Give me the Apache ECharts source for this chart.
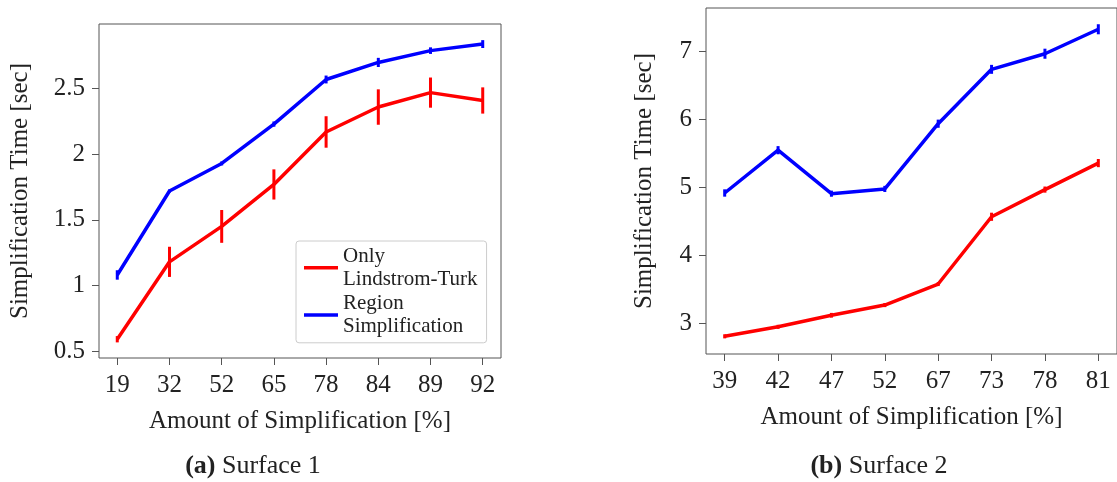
<!DOCTYPE html>
<html>
<head>
<meta charset="utf-8">
<script src="https://cdn.jsdelivr.net/npm/echarts@6/dist/echarts.min.js"></script>
<style>
  html, body { margin: 0; padding: 0; background: #fff; }
  #chart { width: 1117px; height: 482px; }
</style>
</head>
<body>
<div id="chart"></div>
<script>
// Surface 1: simplification amount [%] and times [sec] with error half-widths
const catsA = ['19', '32', '52', '65', '78', '84', '89', '92'];
const lindstromA = [0.59, 1.18, 1.45, 1.77, 2.17, 2.36, 2.47, 2.41];
const lindstromAErr = [0.024, 0.115, 0.125, 0.115, 0.12, 0.135, 0.115, 0.10];
const regionA = [1.08, 1.72, 1.93, 2.23, 2.57, 2.70, 2.79, 2.84];
const regionAErr = [0.036, 0.012, 0.015, 0.02, 0.03, 0.035, 0.025, 0.03];

// Surface 2
const catsB = ['39', '42', '47', '52', '67', '73', '78', '81'];
const lindstromB = [2.81, 2.95, 3.12, 3.27, 3.58, 4.57, 4.97, 5.36];
const lindstromBErr = [0.03, 0.03, 0.035, 0.03, 0.03, 0.06, 0.045, 0.06];
const regionB = [4.92, 5.55, 4.91, 4.98, 5.94, 6.74, 6.97, 7.33];
const regionBErr = [0.054, 0.06, 0.045, 0.045, 0.06, 0.066, 0.074, 0.074];

const ticksA = [0.5, 1, 1.5, 2, 2.5];
const ticksB = [3, 4, 5, 6, 7];

const NAME_L = 'Only\nLindstrom-Turk';
const NAME_R = 'Region\nSimplification';
const RED = '#ff0000';
const BLUE = '#0000ff';
const FONT = '"Liberation Serif", "DejaVu Serif", serif';
const TXT = '#222222';
const FRAME = '#555555';
const AXIS_FONT = 25;

const toPoints = (vals) => vals.map((v, i) => [i, v]);
const toErr = (vals, errs) => vals.map((v, i) => [i, v, errs[i]]);

function xAxisFor(gridIndex, cats) {
  const idx = cats.map((_, i) => i);
  return {
    type: 'value', gridIndex, min: -0.35, max: cats.length - 1 + 0.35,
    splitLine: { show: false },
    axisLine: { show: false, onZero: false },
    axisTick: { show: true, length: 7, customValues: idx, lineStyle: { color: FRAME, width: 1 } },
    axisLabel: {
      customValues: idx, margin: 15,
      formatter: (v) => cats[Math.round(v)],
      fontFamily: FONT, fontSize: AXIS_FONT, color: TXT
    },
    name: 'Amount of Simplification [%]', nameLocation: 'middle', nameGap: 51,
    nameTextStyle: { fontFamily: FONT, fontSize: AXIS_FONT, color: TXT }
  };
}

function yAxisFor(gridIndex, min, max, ticks, gap) {
  return {
    type: 'value', gridIndex, min, max,
    splitLine: { show: false },
    axisLine: { show: false, onZero: false },
    axisTick: { show: true, length: 7, customValues: ticks, lineStyle: { color: FRAME, width: 1 } },
    axisLabel: {
      customValues: ticks, margin: 14,
      formatter: (v) => String(v),
      fontFamily: FONT, fontSize: AXIS_FONT, color: TXT
    },
    name: 'Simplification Time [sec]', nameLocation: 'middle', nameGap: gap,
    nameTextStyle: { fontFamily: FONT, fontSize: AXIS_FONT, color: TXT }
  };
}

function lineSeries(name, idx, vals, color) {
  return {
    type: 'line', name, xAxisIndex: idx, yAxisIndex: idx,
    data: toPoints(vals), symbol: 'none', silent: true,
    lineStyle: { color, width: 3.5 }, itemStyle: { color },
    z: 3
  };
}

function errSeries(idx, vals, errs, color) {
  return {
    type: 'custom', xAxisIndex: idx, yAxisIndex: idx, silent: true,
    data: toErr(vals, errs),
    z: 4,
    renderItem: (params, api) => {
      const x = api.value(0), y = api.value(1), e = api.value(2);
      const top = api.coord([x, y + e]);
      const bot = api.coord([x, y - e]);
      return {
        type: 'line',
        shape: { x1: top[0], y1: top[1], x2: bot[0], y2: bot[1] },
        style: { stroke: color, lineWidth: 3 }
      };
    }
  };
}

function caption(tag, text, cx) {
  return {
    type: 'text',
    style: {
      text: '{b|' + tag + '} ' + text, x: cx, y: 466, align: 'center', verticalAlign: 'middle',
      fontFamily: FONT, fontSize: 26, fill: TXT,
      rich: { b: { fontFamily: FONT, fontSize: 26, fontWeight: 'bold', fill: TXT } }
    }
  };
}

const chart = echarts.init(document.getElementById('chart'), null, { renderer: 'canvas' });
chart.setOption({
  animation: false,
  backgroundColor: '#ffffff',
  grid: [
    { left: 99, top: 24, width: 402, height: 334, show: true, borderColor: FRAME, borderWidth: 1, backgroundColor: 'transparent' },
    { left: 706, top: 8, width: 417, height: 346, show: true, borderColor: FRAME, borderWidth: 1, backgroundColor: 'transparent' }
  ],
  xAxis: [xAxisFor(0, catsA), xAxisFor(1, catsB)],
  yAxis: [
    yAxisFor(0, 0.447, 2.993, ticksA, 66),
    yAxisFor(1, 2.55, 7.643, ticksB, 49)
  ],
  legend: {
    data: [NAME_L, NAME_R],
    orient: 'vertical',
    left: 296, top: 241,
    icon: 'rect', itemWidth: 34, itemHeight: 3.5, itemGap: 2,
    padding: [4, 9, 5, 8],
    borderColor: '#cccccc', borderWidth: 1, borderRadius: 3,
    backgroundColor: '#ffffff',
    textStyle: { fontFamily: FONT, fontSize: 21, lineHeight: 22.7, color: TXT },
    selectedMode: false
  },
  graphic: [
    caption('(a)', 'Surface 1', 253),
    caption('(b)', 'Surface 2', 879)
  ],
  series: [
    lineSeries(NAME_L, 0, lindstromA, RED),
    lineSeries(NAME_R, 0, regionA, BLUE),
    errSeries(0, lindstromA, lindstromAErr, RED),
    errSeries(0, regionA, regionAErr, BLUE),
    lineSeries(NAME_L, 1, lindstromB, RED),
    lineSeries(NAME_R, 1, regionB, BLUE),
    errSeries(1, lindstromB, lindstromBErr, RED),
    errSeries(1, regionB, regionBErr, BLUE)
  ]
});
</script>
</body>
</html>
